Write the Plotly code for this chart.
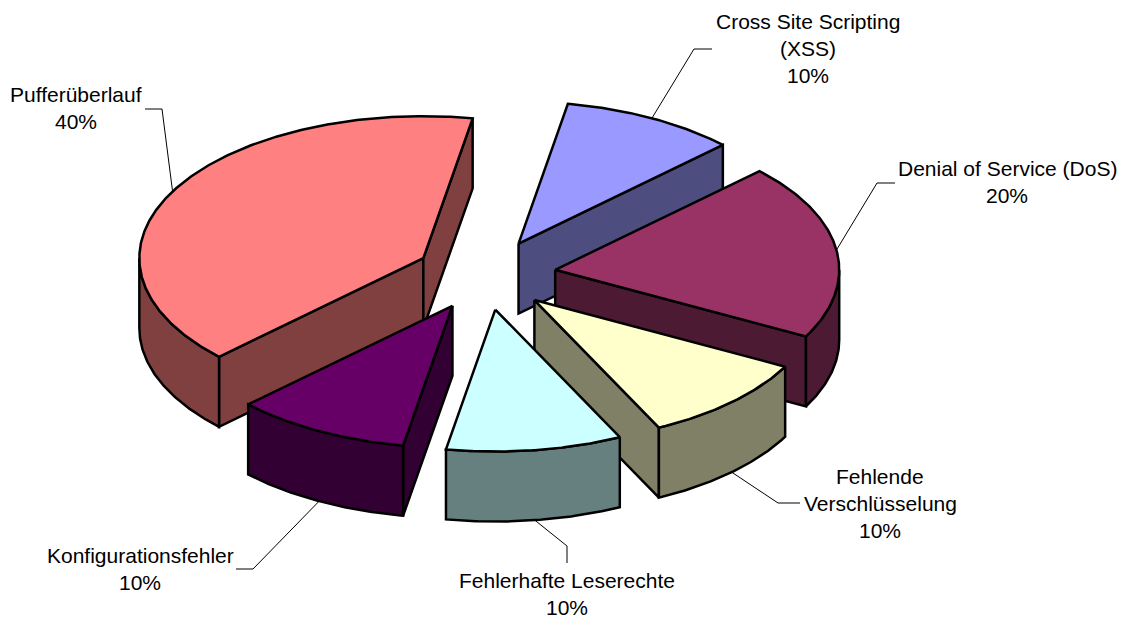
import math
import plotly.graph_objects as go

# Data
categories = ["Cross Site Scripting (XSS)", "Denial of Service (DoS)", "Fehlende Verschlüsselung",
              "Fehlerhafte Leserechte", "Konfigurationsfehler", "Pufferüberlauf"]
values = [10, 20, 10, 10, 10, 40]
label_lines = [["Cross Site Scripting", "(XSS)"], ["Denial of Service (DoS)"], ["Fehlende", "Verschlüsselung"],
               ["Fehlerhafte Leserechte"], ["Konfigurationsfehler"], ["Pufferüberlauf"]]
top_colors = ["#9999FF", "#993366", "#FFFFCC", "#CCFFFF", "#660066", "#FF8080"]
side_colors = ["#4D4D80", "#4D1A33", "#808066", "#668080", "#330033", "#804040"]

# Layout / projection
W, H = 1129, 619
CX, CY = 485.5, 274.7
RX, TILT = 284.0, 0.5
DEPTH = 70.0
EXPLODE = 70.4
START_ANGLE = 10.0
DRAW_ORDER = [5, 0, 1, 4, 2, 3]
label_centers = [(808, 21), (1007, 168), (880, 476), (567, 580), (140, 555), (76, 94)]
LINE_GAP = 27
FONT = dict(family="Liberation Sans, Arial, sans-serif", size=21, color="black")
leader_knees = [[(694, 49), (712, 49)], [(877, 183), (895, 183)], [(778, 503), (800, 503)],
                [(567, 546), (567, 563)], [(253, 569), (236, 569)], [(162, 109), (145, 109)]]


def proj(cx, cy, deg, down=0.0):
    t = math.radians(deg)
    return cx + RX * math.sin(t), cy - RX * TILT * math.cos(t) + down


def arc(cx, cy, a0, a1, down=0.0):
    n = max(2, int(abs(a1 - a0) * 2))
    return [proj(cx, cy, a0 + (a1 - a0) * i / n, down) for i in range(n + 1)]


def poly(points, color):
    xs = [p[0] for p in points] + [points[0][0]]
    ys = [p[1] for p in points] + [points[0][1]]
    return go.Scatter(x=xs, y=ys, mode="lines", fill="toself", fillcolor=color,
                      line=dict(color="black", width=2.5), hoverinfo="skip", showlegend=False)


total = sum(values)
angles = [START_ANGLE]
for v in values:
    angles.append(angles[-1] + v / total * 360)

fig = go.Figure()


def draw_slice(i):
    a0, a1 = angles[i], angles[i + 1]
    mid = (a0 + a1) / 2
    t = math.radians(mid)
    ax = CX + EXPLODE * math.sin(t)
    ay = CY - EXPLODE * TILT * math.cos(t)
    for edge, visible in ((a0, math.sin(math.radians(a0)) < 0), (a1, math.sin(math.radians(a1)) > 0)):
        if visible:
            p = proj(ax, ay, edge)
            fig.add_trace(poly([(ax, ay), p, (p[0], p[1] + DEPTH), (ax, ay + DEPTH)], side_colors[i]))
    lo, hi = max(a0, 90), min(a1, 270)
    if hi > lo:
        fig.add_trace(poly(arc(ax, ay, lo, hi) + arc(ax, ay, hi, lo, DEPTH), side_colors[i]))
    fig.add_trace(poly([(ax, ay)] + arc(ax, ay, a0, a1), top_colors[i]))
    # leader line starts at the rim, at the middle of the slice
    down = DEPTH if 120 < mid % 360 < 270 else 0
    pts = [proj(ax, ay, mid, down)] + leader_knees[i]
    fig.add_trace(go.Scatter(x=[q[0] for q in pts], y=[q[1] for q in pts], mode="lines",
                             line=dict(color="black", width=1), hoverinfo="skip", showlegend=False))


for i in DRAW_ORDER:
    draw_slice(i)

annotations = []
for i, lines in enumerate(label_lines):
    x, y = label_centers[i]
    pct = f"{round(values[i] / total * 100)}%"
    for j, txt in enumerate(lines + [pct]):
        annotations.append(dict(x=x, y=y + j * LINE_GAP, text=txt, showarrow=False, xanchor="center",
                                yanchor="middle", font=FONT, xref="x", yref="y"))

fig.update_layout(width=W, height=H, margin=dict(l=0, r=0, t=0, b=0), paper_bgcolor="white",
                  plot_bgcolor="white", showlegend=False, annotations=annotations,
                  xaxis=dict(range=[0, W], visible=False, fixedrange=True),
                  yaxis=dict(range=[H, 0], visible=False, fixedrange=True))
fig.write_html("out.html", config={"displayModeBar": False},
               post_script="document.body.style.margin='0';document.body.style.overflow='hidden';")
